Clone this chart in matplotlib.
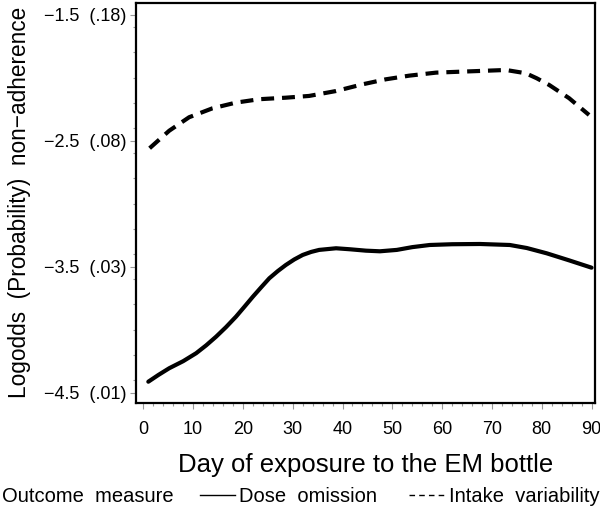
import matplotlib.pyplot as plt
from matplotlib.lines import Line2D
from matplotlib.ticker import MultipleLocator

plt.rcParams["font.family"] = ["Liberation Sans", "DejaVu Sans"]

# Werte (Tag, Logodds)
days_omission = [1, 3, 5.2, 8, 10.6, 12.6, 14.6, 16.6, 18.6, 20.3, 22.0, 23.7,
                 25.3, 27.0, 28.6, 30.3, 32.0, 33.7, 35.3, 38.7, 41.5, 44.7,
                 47.5, 50.9, 54, 57.5, 62, 67.6, 73.6, 77, 81, 85.5, 90]
logodds_omission = [-4.413, -4.36, -4.306, -4.25, -4.187, -4.125, -4.056,
                    -3.98, -3.897, -3.818, -3.738, -3.662, -3.592, -3.535,
                    -3.487, -3.443, -3.407, -3.383, -3.367, -3.354, -3.362,
                    -3.373, -3.378, -3.367, -3.345, -3.328, -3.322, -3.32,
                    -3.328, -3.352, -3.394, -3.45, -3.508]

days_intake = [1.26, 5.2, 9.2, 13.9, 18.6, 23.3, 28.6, 33.3, 38.7, 44.0, 48.7,
               53.4, 58.8, 64.1, 69.5, 72.8, 76.8, 79, 81.5, 85.5, 89.5]
logodds_intake = [-2.560, -2.421, -2.314, -2.243, -2.198, -2.171, -2.159,
                  -2.145, -2.106, -2.053, -2.013, -1.984, -1.960, -1.952,
                  -1.944, -1.939, -1.965, -2.005, -2.058, -2.163, -2.296]

y_ticks = [-1.5, -2.5, -3.5, -4.5]
y_tick_labels = ["\u22121.5  (.18)", "\u22122.5  (.08)", "\u22123.5  (.03)", "\u22124.5  (.01)"]
x_ticks = list(range(0, 91, 10))

fig = plt.figure(figsize=(6.0, 5.17), dpi=100)
ax = fig.add_axes([0.2267, 0.2205, 0.765, 0.7743])

ax.plot(days_omission, logodds_omission, color="black", linewidth=3.0,
        solid_capstyle="round", solid_joinstyle="round")
ax.plot(days_intake, logodds_intake, color="black", linewidth=3.0,
        dashes=(3.1, 1.9), dash_capstyle="butt", dash_joinstyle="round")

ax.set_xlim(-1.47, 90.7)
ax.set_ylim(-4.582, -1.405)

ax.set_xticks(x_ticks)
ax.xaxis.set_minor_locator(MultipleLocator(2))
ax.set_yticks(y_ticks)
ax.set_yticklabels(y_tick_labels)
ax.yaxis.set_minor_locator(MultipleLocator(0.2))

ax.tick_params(which="both", direction="out", color="#999999", width=0.8)
ax.tick_params(which="major", length=4, labelsize=13, pad=9)
ax.tick_params(which="minor", length=2.5)
ax.tick_params(axis="y", which="major", pad=3)

for spine in ax.spines.values():
    spine.set_linewidth(1.6)
    spine.set_color("black")

ax.set_xlabel("Day of exposure to the EM bottle", fontsize=18.5, labelpad=11)
ax.set_ylabel("Logodds  (Probability)  non\u2212adherence", fontsize=16.3, labelpad=9)

# Legende wie im SAS-Original: Titel links, dann zwei Einträge
fig.text(0.003, 0.039, "Outcome  measure", fontsize=14.5, ha="left", va="center")
handles = [Line2D([0], [0], color="black", linewidth=1.0),
           Line2D([0], [0], color="black", linewidth=1.0, dashes=(4, 3))]
fig.legend(handles, ["Dose  omission", "Intake  variability"], ncol=2,
           loc="center left", bbox_to_anchor=(0.333, 0.039), frameon=False,
           fontsize=14.5, handlelength=1.75, handletextpad=0.2, columnspacing=1.6,
           borderaxespad=0, borderpad=0)

fig.savefig("out.png", dpi=100)
